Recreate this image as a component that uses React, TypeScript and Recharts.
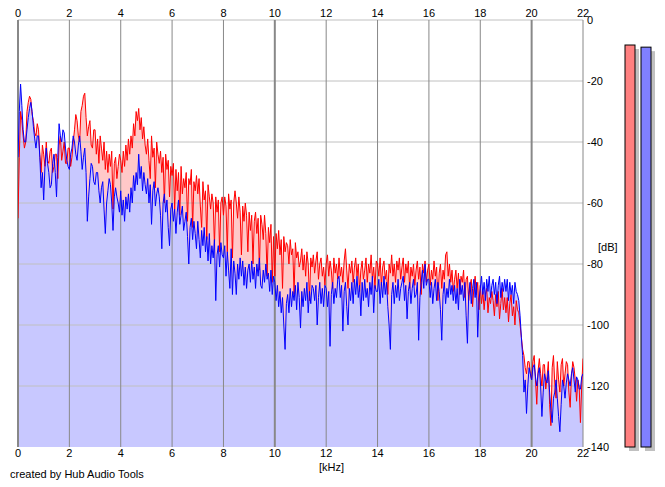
import React from 'react';
import {
  ComposedChart,
  Area,
  Line,
  XAxis,
  YAxis,
  ReferenceLine,
  BarChart,
  Bar,
  Cell,
} from 'recharts';

// Frequency step of the spectrum samples (kHz); samples run 0.00 .. 22.00
const FREQ_STEP_KHZ = 0.05;

// Left channel (red) level in dB, one value per 0.05 kHz (each row = 0.5 kHz)
const RED_DB = [
  -65, -45, -30, -33, -38, -42, -40, -30, -27, -25,
  -26, -31, -33, -37, -38, -34, -36, -44, -50, -41,
  -44, -48, -40, -46, -47, -43, -42, -50, -48, -44,
  -44, -52, -41, -38, -46, -43, -40, -47, -47, -42,
  -42, -48, -45, -40, -36, -31, -33, -38, -40, -30,
  -28, -25, -24, -32, -38, -35, -33, -41, -42, -36,
  -36, -44, -39, -47, -38, -42, -46, -40, -49, -43,
  -50, -44, -48, -43, -62, -47, -45, -52, -48, -44,
  -46, -50, -43, -48, -41, -46, -39, -44, -38, -42,
  -34, -38, -30, -33, -29, -36, -32, -39, -35, -41,
  -44, -39, -46, -52, -38, -45, -42, -55, -40, -44,
  -47, -43, -50, -45, -60, -44, -49, -46, -58, -48,
  -51, -47, -62, -49, -56, -50, -64, -48, -57, -52,
  -55, -50, -66, -52, -54, -49, -68, -53, -56, -51,
  -57, -52, -61, -68, -53, -59, -56, -72, -54, -58,
  -62, -57, -60, -74, -58, -63, -59, -76, -60, -58,
  -64, -58, -61, -76, -57, -62, -59, -78, -60, -56,
  -60, -65, -58, -63, -77, -61, -66, -60, -64, -76,
  -63, -69, -64, -80, -66, -63, -70, -65, -82, -64,
  -67, -72, -64, -70, -84, -68, -73, -67, -86, -71,
  -84, -70, -75, -69, -77, -72, -88, -71, -76, -73,
  -74, -80, -72, -77, -75, -90, -73, -78, -76, -81,
  -79, -75, -82, -77, -84, -76, -80, -92, -78, -81,
  -77, -83, -79, -76, -85, -80, -78, -84, -81, -87,
  -80, -77, -84, -79, -82, -88, -78, -83, -80, -85,
  -78, -84, -81, -86, -79, -75, -82, -88, -80, -83,
  -79, -86, -81, -78, -84, -80, -89, -82, -79, -85,
  -82, -78, -86, -80, -83, -77, -85, -81, -88, -79,
  -80, -84, -78, -87, -81, -79, -85, -82, -90, -80,
  -83, -77, -84, -80, -86, -79, -82, -78, -85, -81,
  -78, -86, -80, -83, -79, -88, -81, -84, -80, -87,
  -82, -79, -85, -81, -90, -80, -83, -79, -86, -82,
  -80, -87, -82, -85, -79, -84, -81, -92, -83, -80,
  -88, -82, -85, -77, -76, -84, -80, -86, -82, -89,
  -85, -82, -88, -83, -90, -84, -86, -82, -91, -85,
  -84, -92, -87, -85, -94, -88, -84, -90, -86, -95,
  -87, -93, -89, -95, -90, -88, -96, -91, -93, -89,
  -92, -97, -90, -94, -89, -98, -93, -88, -95, -91,
  -96, -91, -99, -93, -90, -97, -94, -100, -92, -95,
  -96, -100, -104, -108, -110, -114, -116, -112, -112, -116,
  -118, -112, -110, -118, -126, -115, -111, -116, -120, -113,
  -113, -121, -117, -112, -126, -133, -114, -110, -119, -124,
  -112, -118, -122, -113, -111, -120, -116, -112, -113, -122,
  -127, -117, -112, -114, -118, -125, -118, -120, -132, -120,
  -111,
];

// Right channel (blue) level in dB, one value per 0.05 kHz (each row = 0.5 kHz)
const BLUE_DB = [
  -45, -30, -21, -28, -36, -40, -40, -36, -32, -29,
  -27, -30, -35, -39, -42, -38, -38, -45, -55, -50,
  -59, -48, -42, -47, -50, -55, -54, -47, -44, -50,
  -58, -45, -34, -38, -40, -36, -37, -42, -46, -48,
  -49, -44, -42, -38, -40, -44, -46, -41, -38, -43,
  -49, -45, -42, -50, -66, -58, -52, -47, -48, -53,
  -54, -50, -50, -56, -60, -55, -53, -62, -70, -60,
  -56, -52, -54, -60, -69, -58, -55, -58, -60, -63,
  -56, -64, -59, -66, -58, -62, -57, -63, -55, -60,
  -51, -56, -50, -54, -44, -52, -48, -56, -50, -54,
  -57, -52, -60, -54, -67, -56, -53, -61, -57, -55,
  -58, -64, -75, -60, -57, -63, -59, -68, -74, -62,
  -60, -66, -62, -70, -63, -59, -67, -64, -61, -69,
  -66, -63, -71, -80, -68, -65, -72, -66, -70, -75,
  -66, -72, -78, -69, -74, -68, -76, -71, -79, -70,
  -80, -74, -78, -72, -92, -77, -74, -81, -73, -77,
  -78, -74, -84, -76, -82, -88, -75, -90, -79, -83,
  -90, -80, -85, -78, -84, -79, -87, -81, -88, -82,
  -80, -86, -79, -85, -81, -88, -80, -84, -78, -87,
  -88, -82, -86, -80, -85, -83, -89, -82, -90, -84,
  -86, -92, -87, -94, -89, -96, -91, -100, -108, -93,
  -90, -96, -88, -94, -89, -92, -87, -95, -86, -91,
  -101, -89, -94, -88, -92, -86, -96, -89, -93, -87,
  -88, -92, -87, -100, -91, -86, -93, -88, -94, -87,
  -88, -94, -89, -107, -90, -86, -93, -88, -91, -85,
  -84, -91, -87, -102, -89, -86, -94, -100, -88, -92,
  -86, -93, -85, -90, -84, -91, -87, -97, -86, -92,
  -85, -91, -88, -94, -86, -90, -84, -96, -87, -89,
  -89, -85, -93, -86, -91, -84, -90, -86, -94, -100,
  -108, -90, -86, -93, -87, -91, -85, -92, -88, -86,
  -84, -92, -87, -98, -89, -86, -93, -88, -85, -91,
  -90, -86, -105, -91, -86, -82, -88, -80, -87, -85,
  -85, -91, -86, -93, -88, -85, -92, -86, -89, -95,
  -105, -90, -86, -93, -88, -91, -85, -90, -87, -92,
  -87, -93, -88, -95, -85, -90, -87, -92, -86, -97,
  -106, -90, -86, -93, -88, -85, -91, -86, -104, -92,
  -88, -84, -90, -86, -92, -85, -89, -84, -91, -87,
  -85, -90, -86, -93, -87, -84, -91, -86, -89, -85,
  -89, -85, -92, -86, -90, -87, -93, -86, -89, -90,
  -92, -97, -104, -110, -122, -118, -129, -120, -114, -116,
  -118, -114, -113, -117, -120, -116, -114, -120, -130, -122,
  -116, -118, -119, -115, -122, -128, -132, -124, -122, -118,
  -124, -130, -135, -126, -118, -120, -124, -119, -116, -118,
  -120, -116, -114, -118, -122, -117, -118, -121, -121, -117,
  -116,
];

const X_TICKS = [0, 2, 4, 6, 8, 10, 12, 14, 16, 18, 20, 22];
const MAJOR_X_TICKS = [0, 10, 20];
const Y_TICKS = [0, -20, -40, -60, -80, -100, -120, -140];
const GRID_Y = [0, -20, -40, -60, -80, -100, -120];

// Level meters on the right (peak level, dB)
const METER_CHANNELS = ['L', 'R'];
const METER_LEVELS = [-8.2, -8.9];
const METER_COLORS = ['#ff8080', '#8080ff'];

const FONT = '"Liberation Sans", Arial, sans-serif';

const data = RED_DB.map((r, i) => ({
  f: Math.round(i * FREQ_STEP_KHZ * 100) / 100,
  red: r,
  blue: BLUE_DB[i],
}));

const meterData = METER_CHANNELS.map((c, i) => ({
  ch: c,
  range: [-140, METER_LEVELS[i]],
}));

const MeterShape = (props: any) => {
  const { x, y, width, height, fill } = props;
  return (
    <g>
      <rect x={x + 4} y={y + 4} width={width} height={height} fill="#c0c0c0" />
      <rect
        x={x}
        y={y}
        width={width}
        height={height}
        fill={fill}
        stroke="#000"
        strokeWidth={1}
      />
    </g>
  );
};

const tickStyle = { fontSize: 11, fill: '#000', fontFamily: FONT };

export default function App() {
  return (
    <div
      style={{
        position: 'absolute',
        left: 0,
        top: 0,
        width: 665,
        height: 487,
        background: '#fff',
        fontFamily: FONT,
      }}
    >
      <div style={{ position: 'absolute', left: 0, top: 0 }}>
        <ComposedChart
          width={665}
          height={487}
          data={data}
          margin={{ top: 0, right: 0, bottom: 20, left: 18 }}
        >
          <XAxis
            xAxisId="top"
            orientation="top"
            dataKey="f"
            type="number"
            domain={[0, 22]}
            ticks={X_TICKS}
            interval={0}
            height={20}
            axisLine={false}
            tickLine={false}
            tickSize={0}
            tickMargin={3}
            tick={tickStyle}
            allowDataOverflow
          />
          <XAxis
            xAxisId="bottom"
            orientation="bottom"
            dataKey="f"
            type="number"
            domain={[0, 22]}
            ticks={X_TICKS}
            interval={0}
            height={20}
            axisLine={false}
            tickLine={false}
            tickSize={0}
            tickMargin={2}
            tick={tickStyle}
            allowDataOverflow
          />
          <YAxis
            yAxisId="db"
            orientation="right"
            domain={[-140, 0]}
            ticks={Y_TICKS}
            interval={0}
            width={82}
            axisLine={false}
            tickLine={false}
            tickSize={0}
            tickMargin={4}
            tick={tickStyle}
            allowDataOverflow
          />
          <Area
            xAxisId="bottom"
            yAxisId="db"
            type="linear"
            dataKey="red"
            stroke="none"
            fill="#ffc8c8"
            fillOpacity={1}
            baseValue={-140}
            isAnimationActive={false}
          />
          <Area
            xAxisId="bottom"
            yAxisId="db"
            type="linear"
            dataKey="blue"
            stroke="none"
            fill="#c8c8ff"
            fillOpacity={1}
            baseValue={-140}
            isAnimationActive={false}
          />
          {GRID_Y.map((v) => (
            <ReferenceLine
              key={'h' + v}
              xAxisId="bottom"
              yAxisId="db"
              y={v}
              stroke="#c0c0c0"
              strokeWidth={1}
            />
          ))}
          {X_TICKS.map((v) => (
            <ReferenceLine
              key={'v' + v}
              xAxisId="bottom"
              yAxisId="db"
              x={v}
              stroke="#888888"
              strokeWidth={MAJOR_X_TICKS.includes(v) ? 2 : 1}
            />
          ))}
          <Line
            xAxisId="bottom"
            yAxisId="db"
            type="linear"
            dataKey="red"
            stroke="#ff0000"
            strokeWidth={1}
            dot={false}
            isAnimationActive={false}
          />
          <Line
            xAxisId="bottom"
            yAxisId="db"
            type="linear"
            dataKey="blue"
            stroke="#0000ff"
            strokeWidth={1}
            dot={false}
            isAnimationActive={false}
          />
        </ComposedChart>
      </div>
      <div style={{ position: 'absolute', left: 622, top: 0 }}>
        <BarChart
          width={40}
          height={487}
          data={meterData}
          margin={{ top: 20, right: 8, bottom: 40, left: 0 }}
          barCategoryGap={0}
        >
          <XAxis dataKey="ch" hide />
          <YAxis domain={[-140, 0]} hide />
          <Bar
            dataKey="range"
            barSize={10}
            shape={<MeterShape />}
            isAnimationActive={false}
          >
            {meterData.map((d, i) => (
              <Cell key={d.ch} fill={METER_COLORS[i]} />
            ))}
          </Bar>
        </BarChart>
      </div>
      <div
        style={{
          position: 'absolute',
          left: 598,
          top: 241,
          fontSize: 11,
          color: '#000',
        }}
      >
        [dB]
      </div>
      <div
        style={{
          position: 'absolute',
          left: 319,
          top: 461,
          fontSize: 11,
          color: '#000',
        }}
      >
        [kHz]
      </div>
      <div
        style={{
          position: 'absolute',
          left: 10,
          top: 468,
          fontSize: 11,
          color: '#000',
        }}
      >
        created by Hub Audio Tools
      </div>
    </div>
  );
}
